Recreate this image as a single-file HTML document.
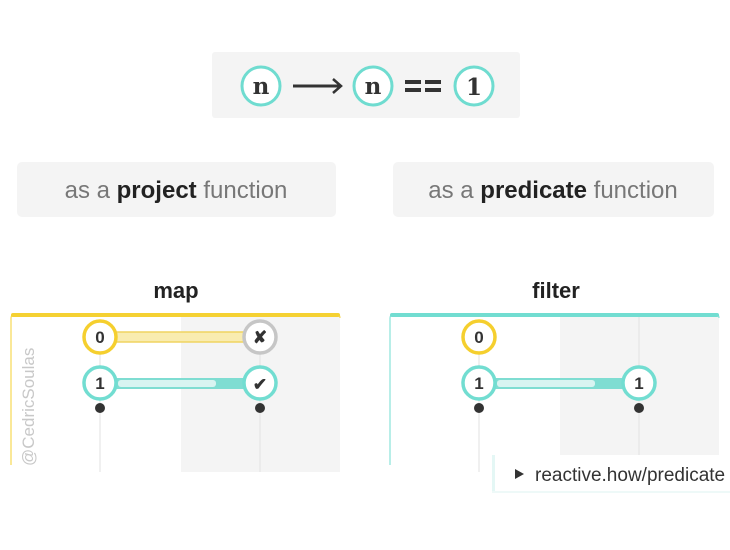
<!DOCTYPE html>
<html><head><meta charset="utf-8"><style>
html,body{margin:0;padding:0;background:#fff;width:730px;height:550px;overflow:hidden}
svg{display:block}
text{font-family:"Liberation Sans",sans-serif}
text.m{font-family:"DejaVu Serif","Liberation Serif",serif}
</style></head><body>
<svg width="730" height="550" viewBox="0 0 730 550" xmlns="http://www.w3.org/2000/svg">
<rect x="212" y="52" width="308" height="66" rx="3" fill="#f4f4f4"/>
<g fill="#fff" stroke="#6fdcd0" stroke-width="3">
<circle cx="261" cy="86" r="19"/><circle cx="373" cy="86" r="19"/><circle cx="474" cy="86" r="19"/>
</g>
<g font-weight="bold" font-size="23" fill="#333" text-anchor="middle">
<text class="m" x="261" y="94">n</text>
<text class="m" x="373" y="94">n</text>
<text class="m" x="474" y="95">1</text>
</g>
<line x1="293" y1="86" x2="340" y2="86" stroke="#333" stroke-width="3"/>
<path d="M333 79 L341 86 L333 93" fill="none" stroke="#333" stroke-width="2.5"/>
<rect x="405" y="80" width="16" height="4" fill="#333"/>
<rect x="405" y="88" width="16" height="4" fill="#333"/>
<rect x="425" y="80" width="16" height="4" fill="#333"/>
<rect x="425" y="88" width="16" height="4" fill="#333"/>
<rect x="17" y="162" width="319" height="55" rx="5" fill="#f4f4f4"/>
<rect x="393" y="162" width="321" height="55" rx="5" fill="#f4f4f4"/>
<text x="176" y="198" font-size="24" text-anchor="middle" fill="#777">as a <tspan font-weight="bold" fill="#222">project</tspan> function</text>
<text x="553" y="198" font-size="24" text-anchor="middle" fill="#777">as a <tspan font-weight="bold" fill="#222">predicate</tspan> function</text>
<text x="176" y="298" font-size="22" font-weight="bold" text-anchor="middle" fill="#222">map</text>
<text x="556" y="298" font-size="22" font-weight="bold" text-anchor="middle" fill="#222">filter</text>
<rect x="181" y="317" width="159" height="155" fill="#f4f4f4"/>
<path d="M11 465 V318 Q11 314 15 314 H337 Q340 314 340 318" fill="none" stroke="#f5d132" stroke-width="1"/>
<rect x="11" y="313" width="329" height="4" rx="2" fill="#f5d132"/>
<line x1="100" y1="337" x2="100" y2="472" stroke="#e2e2e2"/>
<line x1="260" y1="337" x2="260" y2="472" stroke="#e2e2e2"/>
<rect x="116" y="332" width="128" height="10" fill="#f9ecb0" stroke="#f0d460" stroke-width="1.5"/>
<rect x="116" y="378" width="128" height="11" fill="#7fddd2"/>
<rect x="118" y="380" width="98" height="7" rx="3" fill="#d8f4f1"/>
<circle cx="100" cy="337" r="16" fill="#fff" stroke="#f5cf2e" stroke-width="3.5"/>
<circle cx="260" cy="337" r="16" fill="#fff" stroke="#c6c6c6" stroke-width="3.5"/>
<circle cx="100" cy="383" r="16" fill="#fff" stroke="#72ddd1" stroke-width="3.5"/>
<circle cx="260" cy="383" r="16" fill="#fff" stroke="#72ddd1" stroke-width="3.5"/>
<circle cx="100" cy="408" r="5" fill="#333"/><circle cx="260" cy="408" r="5" fill="#333"/>
<g font-size="17" font-weight="bold" fill="#333" text-anchor="middle">
<text x="100" y="343">0</text><text x="260" y="343">✘</text>
<text x="100" y="389">1</text><text x="260" y="390">✔</text>
</g>
<text transform="translate(34,466) rotate(-90)" font-size="17" fill="#c8c8c8">@CedricSoulas</text>
<rect x="560" y="317" width="159" height="155" fill="#f4f4f4"/>
<path d="M390 465 V318 Q390 314 394 314 H716 Q719 314 719 318" fill="none" stroke="#72ddd1" stroke-width="1"/>
<rect x="390" y="313" width="329" height="4" rx="2" fill="#72ddd1"/>
<line x1="479" y1="337" x2="479" y2="472" stroke="#e2e2e2"/>
<line x1="639" y1="317" x2="639" y2="460" stroke="#e2e2e2"/>
<rect x="495" y="378" width="128" height="11" fill="#7fddd2"/>
<rect x="497" y="380" width="98" height="7" rx="3" fill="#d8f4f1"/>
<circle cx="479" cy="337" r="16" fill="#fff" stroke="#f5cf2e" stroke-width="3.5"/>
<circle cx="479" cy="383" r="16" fill="#fff" stroke="#72ddd1" stroke-width="3.5"/>
<circle cx="639" cy="383" r="16" fill="#fff" stroke="#72ddd1" stroke-width="3.5"/>
<circle cx="479" cy="408" r="5" fill="#333"/><circle cx="639" cy="408" r="5" fill="#333"/>
<g font-size="17" font-weight="bold" fill="#333" text-anchor="middle">
<text x="479" y="343">0</text><text x="479" y="389">1</text><text x="639" y="389">1</text>
</g>
<rect x="492" y="455" width="240" height="38" fill="#fff"/>
<rect x="492" y="455" width="3" height="38" fill="#e4f7f5"/>
<rect x="492" y="491" width="240" height="2" fill="#eef9f8"/>
<path d="M515 469 L524 474 L515 479 Z" fill="#333"/>
<text x="535" y="481" font-size="19" fill="#333">reactive.how/predicate</text>
</svg>
</body></html>
